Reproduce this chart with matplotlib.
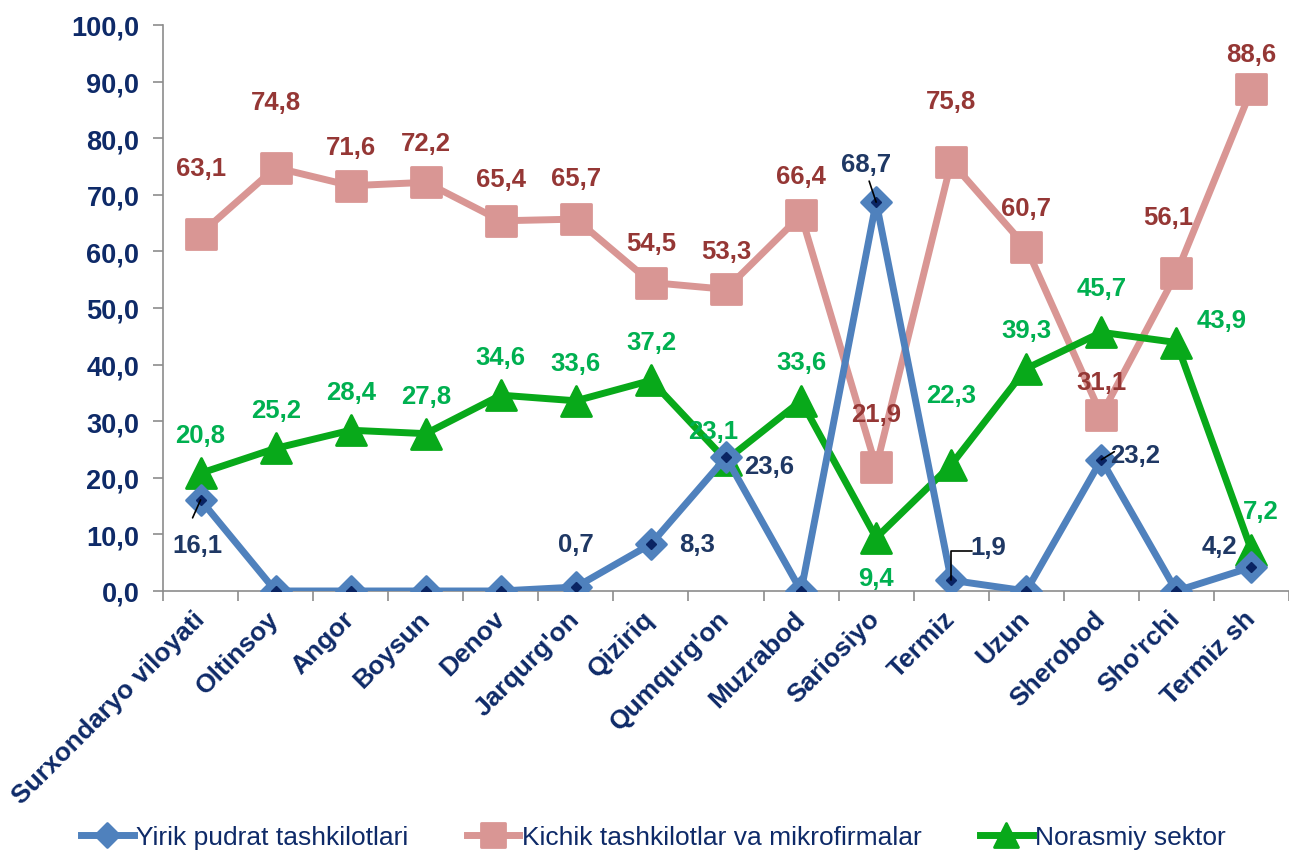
import matplotlib.pyplot as plt
from matplotlib.markers import MarkerStyle
from matplotlib.ticker import FuncFormatter, FixedLocator

plt.rcParams['font.family'] = ['Liberation Sans', 'DejaVu Sans']

# Ma'lumotlar
tumanlar = ['Surxondaryo viloyati', 'Oltinsoy', 'Angor', 'Boysun', 'Denov',
            "Jarqurg'on", 'Qiziriq', "Qumqurg'on", 'Muzrabod', 'Sariosiyo',
            'Termiz', 'Uzun', 'Sherobod', "Sho'rchi", 'Termiz sh']
yirik = [16.1, 0, 0, 0, 0, 0.7, 8.3, 23.6, 0, 68.7, 1.9, 0, 23.2, 0, 4.2]
kichik = [63.1, 74.8, 71.6, 72.2, 65.4, 65.7, 54.5, 53.3, 66.4, 21.9, 75.8, 60.7, 31.1, 56.1, 88.6]
norasmiy = [20.8, 25.2, 28.4, 27.8, 34.6, 33.6, 37.2, 23.1, 33.6, 9.4, 22.3, 39.3, 45.7, 43.9, 7.2]
seriya_nomlari = ['Yirik pudrat tashkilotlari', 'Kichik tashkilotlar va mikrofirmalar', 'Norasmiy sektor']

# Yorliqlar siljishi (piksel: dx, dy yuqoriga)
kichik_off = [(0, 66), (0, 66), (0, 39), (0, 39), (0, 42), (0, 41), (0, 40), (0, 38), (0, 39),
              (0, 53), (0, 61), (0, 39), (0, 33), (-8, 56), (0, 35)]
norasmiy_off = [(0, 38), (0, 38), (0, 38), (0, 38), (0, 38), (0, 38), (0, 38), (-13, 29), (0, 39),
                (0, -40), (0, 70), (0, 39), (0, 44), (45, 23), (9, 39)]
yirik_off = {0: (-3, -45), 5: (0, 43), 6: (46, 0), 7: (43, -9), 9: (-10, 38),
             10: (37, 33), 12: (34, 5), 14: (-32, 21)}
# chiziqchalar: nuqtadan (dx, dy) gacha, burchakli yoki to'g'ri
leader = {0: ((-8, -18), None), 9: ((-7, 21), None),
          10: ((21, 29), 'angle,angleA=0,angleB=90,rad=0'), 12: ((13, 8), None)}

navy = '#0E2A68'
blue = '#4F81BD'
pink = '#D99694'
green = '#08A91A'

x = list(range(len(tumanlar)))
fig = plt.figure(figsize=(12.89, 8.54), dpi=100)
ax = fig.add_axes([0.1265, 0.3068, 0.8735, 0.6628])

ax.plot(x, kichik, color=pink, lw=5, marker=MarkerStyle('s', joinstyle='round'), ms=21,
        mfc=pink, mec=pink, mew=2, zorder=2, label=seriya_nomlari[1])
ax.plot(x, norasmiy, color=green, lw=5, marker=MarkerStyle('^', joinstyle='round'), ms=21,
        mfc=green, mec=green, mew=2, zorder=3, label=seriya_nomlari[2])
ax.plot(x, yirik, color=blue, lw=5, marker=MarkerStyle('D', joinstyle='round'), ms=15,
        mfc=blue, mec=blue, mew=2, zorder=4, label=seriya_nomlari[0])
ax.plot(x, yirik, ls='none', marker='D', ms=5, mfc='#0A2463', mec='#0A2463', zorder=5)

k = 0.72  # piksel -> punkt
fs = 18.5
for i, v in enumerate(kichik):
    dx, dy = kichik_off[i]
    ax.annotate(f'{v:.1f}'.replace('.', ','), (i, v), xytext=(dx * k, dy * k),
                textcoords='offset points', ha='center', va='center',
                fontsize=fs, fontweight='bold', color='#953735', zorder=6)
for i, v in enumerate(norasmiy):
    dx, dy = norasmiy_off[i]
    ax.annotate(f'{v:.1f}'.replace('.', ','), (i, v), xytext=(dx * k, dy * k),
                textcoords='offset points', ha='center', va='center',
                fontsize=fs, fontweight='bold', color='#00B050', zorder=6)
for i, (dx, dy) in yirik_off.items():
    v = yirik[i]
    ax.annotate(f'{v:.1f}'.replace('.', ','), (i, v), xytext=(dx * k, dy * k),
                textcoords='offset points', ha='center', va='center',
                fontsize=fs, fontweight='bold', color='#1F3864', zorder=6)
for i, ((dx, dy), cs) in leader.items():
    ap = dict(arrowstyle='-', color='black', lw=1.2, shrinkA=0, shrinkB=0)
    if cs:
        ap['connectionstyle'] = cs
    ax.annotate('', (i, yirik[i]), xytext=(dx * k, dy * k), textcoords='offset points',
                arrowprops=ap, zorder=7)

ax.set_xlim(-0.5, len(tumanlar) - 0.5)
ax.set_ylim(0, 100)
ax.set_yticks(range(0, 101, 10))
ax.yaxis.set_major_formatter(FuncFormatter(lambda v, p: f'{v:.1f}'.replace('.', ',')))
ax.set_xticks(x)
ax.set_xticklabels(tumanlar, rotation=45, ha='right', va='center', rotation_mode='anchor')
ax.xaxis.set_minor_locator(FixedLocator([i - 0.5 for i in range(len(tumanlar) + 1)]))
ax.tick_params(axis='x', which='major', length=0, pad=17, labelsize=19, labelcolor=navy)
ax.tick_params(axis='x', which='minor', length=7, width=1.2, color='#8C8C8C')
ax.tick_params(axis='y', length=7, width=1.2, color='#8C8C8C', labelsize=19.5,
               labelcolor=navy, pad=10)
for t in ax.get_xticklabels() + ax.get_yticklabels():
    t.set_fontweight('bold')
for s in ['top', 'right']:
    ax.spines[s].set_visible(False)
for s in ['left', 'bottom']:
    ax.spines[s].set_color('#8C8C8C')
    ax.spines[s].set_linewidth(1.2)

h, l = ax.get_legend_handles_labels()
fig.legend([h[2], h[0], h[1]], [l[2], l[0], l[1]], loc='center', bbox_to_anchor=(0.507, 0.019),
           ncol=3, frameon=False, fontsize=19, labelcolor=navy, handlelength=2.0,
           handletextpad=0.1, columnspacing=2.2, markerscale=0.8)

fig.savefig('out.png', dpi=100)
